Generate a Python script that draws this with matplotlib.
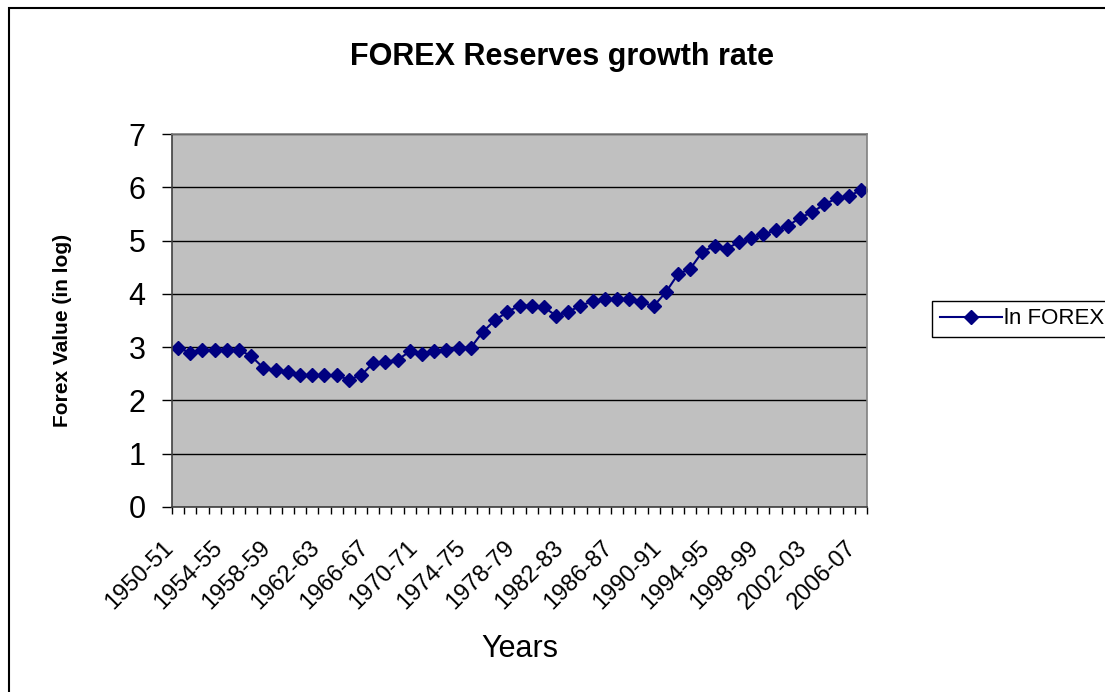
import matplotlib
matplotlib.use("Agg")
import matplotlib.pyplot as plt
import matplotlib.transforms as mtransforms
from matplotlib.patches import Rectangle
from matplotlib.ticker import FixedLocator, NullFormatter

plt.rcParams['font.family'] = ['Liberation Sans', 'DejaVu Sans']

# financial years 1950-51 .. 2006-07
years = [f"{y}-{(y + 1) % 100:02d}" for y in range(1950, 2007)]
ln_forex = [2.99, 2.89, 2.95, 2.95, 2.95, 2.95, 2.83, 2.61, 2.57, 2.54,
            2.47, 2.47, 2.47, 2.47, 2.39, 2.47, 2.70, 2.73, 2.76, 2.92,
            2.87, 2.92, 2.95, 2.99, 2.99, 3.29, 3.51, 3.66, 3.78, 3.78,
            3.75, 3.59, 3.66, 3.78, 3.86, 3.90, 3.90, 3.90, 3.84, 3.77,
            4.03, 4.37, 4.47, 4.79, 4.90, 4.85, 4.97, 5.04, 5.12, 5.19,
            5.27, 5.43, 5.53, 5.68, 5.79, 5.83, 5.95]

W, H = 1105, 692
fig = plt.figure(figsize=(W / 100, H / 100), dpi=100)
ax = fig.add_axes([172 / W, 1 - 507 / H, 695 / W, 373 / H])

x = list(range(len(years)))
line, = ax.plot(x, ln_forex, color='#000080', lw=1.5, marker='D',
                markersize=7, markeredgecolor='#000080', label='ln FOREX')

ax.set_facecolor('#C0C0C0')
ax.set_xlim(-0.5, len(years) - 0.5)
ax.set_ylim(0, 7)
ax.set_yticks(range(0, 8))
ax.yaxis.grid(True, color='black', lw=1)
ax.set_axisbelow(True)
for s in ax.spines.values():
    s.set_color('#808080')
    s.set_linewidth(1.2)
ax.spines['left'].set_color('#404040')
ax.spines['bottom'].set_color('#404040')

ax.tick_params(axis='y', labelsize=22, length=7, width=1, direction='out', pad=12)

ax.set_xticks(x[::4])
ax.set_xticklabels(years[::4], rotation=45, ha='right', va='center',
                   rotation_mode='anchor', fontsize=17)
ax.tick_params(axis='x', which='major', length=0, pad=27)
shift = mtransforms.ScaledTranslation(-8 / 100, 0, fig.dpi_scale_trans)
for lab in ax.get_xticklabels():
    lab.set_transform(lab.get_transform() + shift)
ax.xaxis.set_minor_locator(FixedLocator([i - 0.5 for i in range(len(years) + 1)]))
ax.xaxis.set_minor_formatter(NullFormatter())
ax.tick_params(axis='x', which='minor', length=5, width=1, direction='out')

fig.text(562 / W, 1 - 57 / H, 'FOREX Reserves growth rate', ha='center',
         va='center', fontsize=22, fontweight='bold')
fig.text(520 / W, 1 - 649 / H, 'Years', ha='center', va='center', fontsize=22)
fig.text(62 / W, 1 - 330 / H, 'Forex Value (in log)', ha='center', va='center',
         rotation=90, fontsize=15, fontweight='bold')

fig.legend(handles=[line], labels=['ln FOREX'], loc='center left',
           bbox_to_anchor=(932 / W, 1 - 319 / H), fontsize=16, frameon=True,
           fancybox=False, edgecolor='black', framealpha=1, borderpad=0.35,
           handlelength=2.8, handletextpad=0.1, borderaxespad=0)

# outer chart border
fig.add_artist(Rectangle((9 / W, -0.1), 1.2, 1.1 - 8 / H, transform=fig.transFigure,
                         fill=False, edgecolor='black', lw=1.5))

fig.savefig('out.png', dpi=100)
